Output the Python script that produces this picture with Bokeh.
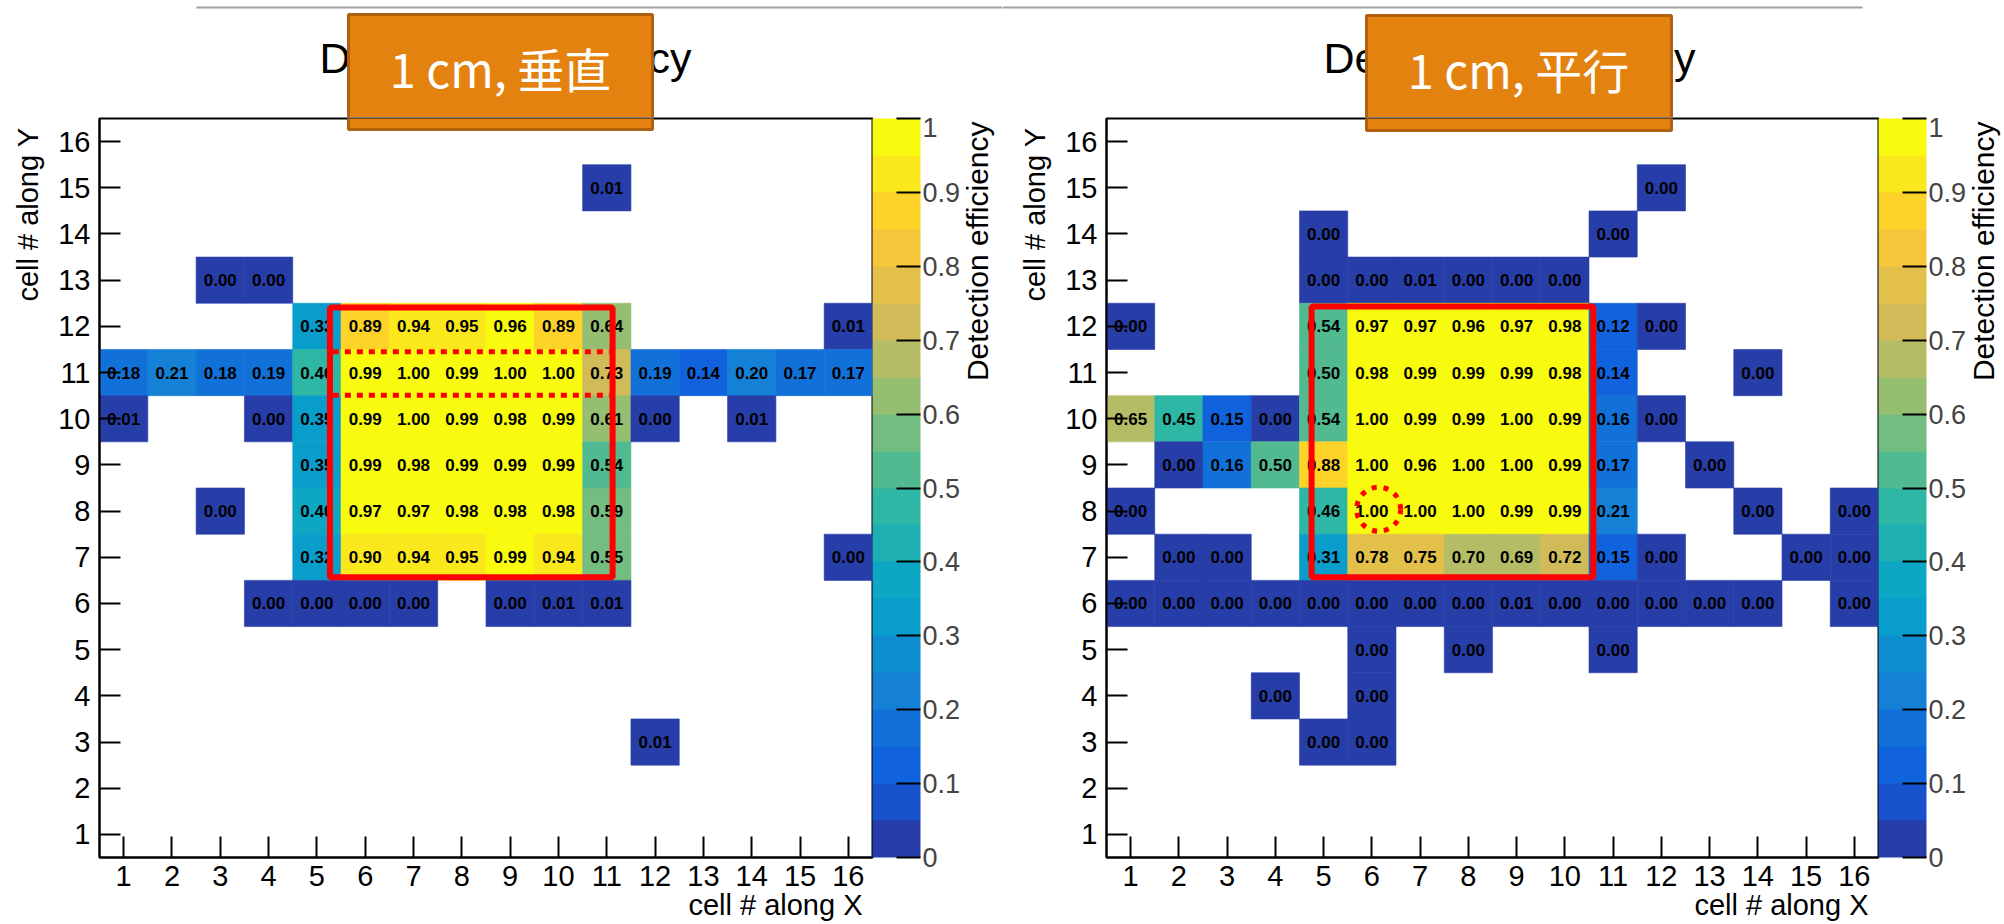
import math
from bokeh.plotting import figure
from bokeh.models import (ColumnDataSource, LinearColorMapper, ColorBar, FixedTicker,
                          Label, Title, Range1d)
from bokeh.layouts import row, column
from bokeh.embed import file_html
from bokeh.resources import INLINE
from bokeh.core.properties import value

# ---------------- data ----------------
# 1 cm, perpendicular (垂直)
perp_x = [11,
          3, 4,
          5, 6, 7, 8, 9, 10, 11, 16,
          1, 2, 3, 4, 5, 6, 7, 8, 9, 10, 11, 12, 13, 14, 15, 16,
          1, 4, 5, 6, 7, 8, 9, 10, 11, 12, 14,
          5, 6, 7, 8, 9, 10, 11,
          3, 5, 6, 7, 8, 9, 10, 11,
          5, 6, 7, 8, 9, 10, 11, 16,
          4, 5, 6, 7, 9, 10, 11,
          12]
perp_y = [15,
          13, 13,
          12, 12, 12, 12, 12, 12, 12, 12,
          11, 11, 11, 11, 11, 11, 11, 11, 11, 11, 11, 11, 11, 11, 11, 11,
          10, 10, 10, 10, 10, 10, 10, 10, 10, 10, 10,
          9, 9, 9, 9, 9, 9, 9,
          8, 8, 8, 8, 8, 8, 8, 8,
          7, 7, 7, 7, 7, 7, 7, 7,
          6, 6, 6, 6, 6, 6, 6,
          3]
perp_eff = [0.01,
            0.00, 0.00,
            0.33, 0.89, 0.94, 0.95, 0.96, 0.89, 0.64, 0.01,
            0.18, 0.21, 0.18, 0.19, 0.46, 0.99, 1.00, 0.99, 1.00, 1.00, 0.73, 0.19, 0.14, 0.20, 0.17, 0.17,
            0.01, 0.00, 0.35, 0.99, 1.00, 0.99, 0.98, 0.99, 0.61, 0.00, 0.01,
            0.35, 0.99, 0.98, 0.99, 0.99, 0.99, 0.54,
            0.00, 0.398, 0.97, 0.97, 0.98, 0.98, 0.98, 0.59,
            0.32, 0.90, 0.94, 0.95, 0.99, 0.94, 0.55, 0.00,
            0.00, 0.00, 0.00, 0.00, 0.00, 0.01, 0.01,
            0.01]

# 1 cm, parallel (平行)
para_x = [12,
          5, 11,
          5, 6, 7, 8, 9, 10,
          1, 5, 6, 7, 8, 9, 10, 11, 12,
          5, 6, 7, 8, 9, 10, 11, 14,
          1, 2, 3, 4, 5, 6, 7, 8, 9, 10, 11, 12,
          2, 3, 4, 5, 6, 7, 8, 9, 10, 11, 13,
          1, 5, 6, 7, 8, 9, 10, 11, 14, 16,
          2, 3, 5, 6, 7, 8, 9, 10, 11, 12, 15, 16,
          1, 2, 3, 4, 5, 6, 7, 8, 9, 10, 11, 12, 13, 14, 16,
          6, 8, 11,
          4, 6,
          5, 6]
para_y = [15,
          14, 14,
          13, 13, 13, 13, 13, 13,
          12, 12, 12, 12, 12, 12, 12, 12, 12,
          11, 11, 11, 11, 11, 11, 11, 11,
          10, 10, 10, 10, 10, 10, 10, 10, 10, 10, 10, 10,
          9, 9, 9, 9, 9, 9, 9, 9, 9, 9, 9,
          8, 8, 8, 8, 8, 8, 8, 8, 8, 8,
          7, 7, 7, 7, 7, 7, 7, 7, 7, 7, 7, 7,
          6, 6, 6, 6, 6, 6, 6, 6, 6, 6, 6, 6, 6, 6, 6,
          5, 5, 5,
          4, 4,
          3, 3]
para_eff = [0.00,
            0.00, 0.00,
            0.00, 0.00, 0.01, 0.00, 0.00, 0.00,
            0.00, 0.54, 0.97, 0.97, 0.96, 0.97, 0.98, 0.12, 0.00,
            0.50, 0.98, 0.99, 0.99, 0.99, 0.98, 0.14, 0.00,
            0.65, 0.45, 0.15, 0.00, 0.54, 1.00, 0.99, 0.99, 1.00, 0.99, 0.16, 0.00,
            0.00, 0.16, 0.50, 0.88, 1.00, 0.96, 1.00, 1.00, 0.99, 0.17, 0.00,
            0.00, 0.46, 1.00, 1.00, 1.00, 0.99, 0.99, 0.21, 0.00, 0.00,
            0.00, 0.00, 0.31, 0.78, 0.75, 0.70, 0.69, 0.72, 0.15, 0.00, 0.00, 0.00,
            0.00, 0.00, 0.00, 0.00, 0.00, 0.00, 0.00, 0.00, 0.01, 0.00, 0.00, 0.00, 0.00, 0.00, 0.00,
            0.00, 0.00, 0.00,
            0.00, 0.00,
            0.00, 0.00]

cell_ticks = [1, 2, 3, 4, 5, 6, 7, 8, 9, 10, 11, 12, 13, 14, 15, 16]
cbar_ticks = [0.0, 0.1, 0.2, 0.3, 0.4, 0.5, 0.6, 0.7, 0.8, 0.9, 1.0]
cbar_tick_labels = ["0", "0.1", "0.2", "0.3", "0.4", "0.5", "0.6", "0.7", "0.8", "0.9", "1"]
chart_title = "Detection efficiency"
x_title = "cell # along X"
y_title = "cell # along Y"
z_title = "Detection efficiency"
box_texts = ["1 cm, 垂直", "1 cm, 平行"]

# ---------------- style ----------------
# ROOT kBird palette, 20 contour levels
bird_stops = [0.0, 0.125, 0.25, 0.375, 0.5, 0.625, 0.75, 0.875, 1.0]
bird_r = [0.2082, 0.0592, 0.0780, 0.0232, 0.1802, 0.5301, 0.8186, 0.9956, 0.9764]
bird_g = [0.1664, 0.3599, 0.5041, 0.6419, 0.7178, 0.7492, 0.7328, 0.7862, 0.9832]
bird_b = [0.5293, 0.8684, 0.8385, 0.7914, 0.6425, 0.4662, 0.3499, 0.1968, 0.0539]


def bird(t):
    for i in range(len(bird_stops) - 1):
        if t <= bird_stops[i + 1] or i == len(bird_stops) - 2:
            f = (t - bird_stops[i]) / (bird_stops[i + 1] - bird_stops[i])
            f = min(max(f, 0.0), 1.0)
            r = bird_r[i] + f * (bird_r[i + 1] - bird_r[i])
            g = bird_g[i] + f * (bird_g[i + 1] - bird_g[i])
            b = bird_b[i] + f * (bird_b[i + 1] - bird_b[i])
            return "#%02x%02x%02x" % (round(r * 255), round(g * 255), round(b * 255))


NCONT = 20
palette = [bird(int((i + 0.99) * 255 / NCONT) / 254) for i in range(NCONT)]

FONT = "Liberation Sans"
CJK = "Noto Sans CJK JP"
ORANGE = "#e4820f"
ORANGE_EDGE = "#b0600e"
RED = "#ff0000"
FIG_W = [1002, 1002]
HEADER_H = 117
MAIN_H = 807
FRAME_W = [773, 772]
LEFT_B = [99, 104]


def make_header(width, line_x, title_cx, box_l, box_r, box_t, box_text_xy, box_text):
    h = figure(width=width, height=HEADER_H, x_range=Range1d(0, width),
               y_range=Range1d(HEADER_H, 0), output_backend="svg",
               toolbar_location=None, title=None, min_border=0,
               x_axis_location=None, y_axis_location=None)
    h.outline_line_color = None
    h.grid.visible = False
    h.background_fill_color = "white"
    h.border_fill_color = "white"
    h.segment(x0=[line_x[0]], y0=[7], x1=[line_x[1]], y1=[7],
              line_color="#a0a0a0", line_width=2)
    h.text(x=[title_cx], y=[57], text=[chart_title], text_align="center",
           text_baseline="alphabetic", text_font=value(FONT), text_font_size="43px",
           text_color="black")
    h.quad(left=[box_l], right=[box_r], top=[box_t], bottom=[HEADER_H + 6],
           fill_color=ORANGE, line_color=ORANGE_EDGE, line_width=3)
    h.text(x=[box_text_xy[0]], y=[box_text_xy[1]], text=[box_text], text_align="center",
           text_baseline="middle", text_font=value(CJK), text_font_size="47px",
           text_color="white")
    return h


def make_panel(xs, ys, effs, k, box_lr_data, box_bottom_data,
               rect_lrbt, dotted_rows, circle_xy):
    mapper = LinearColorMapper(palette=palette, low=0, high=1)
    src = ColumnDataSource(dict(x=xs, y=ys, eff=effs,
                                label=["%.2f" % v for v in effs]))
    p = figure(width=FIG_W[k], height=MAIN_H, x_range=(0.5, 16.5), y_range=(0.5, 16.5),
               output_backend="svg", toolbar_location=None, title=None,
               min_border_left=LEFT_B[k],
               min_border_right=FIG_W[k] - LEFT_B[k] - FRAME_W[k],
               min_border_top=1, min_border_bottom=MAIN_H - 740)
    p.background_fill_color = "white"
    p.border_fill_color = "white"
    p.grid.visible = False
    p.outline_line_color = "black"
    p.outline_line_width = 2

    p.rect("x", "y", 1, 1, source=src,
           fill_color={"field": "eff", "transform": mapper},
           line_color={"field": "eff", "transform": mapper}, line_width=0.6)
    p.text("x", "y", text="label", source=src, text_align="center",
           text_baseline="middle", text_font=value(FONT), text_font_style="bold",
           text_font_size="17px", text_color="black")

    for ax in (p.xaxis[0], p.yaxis[0]):
        ax.ticker = FixedTicker(ticks=cell_ticks)
        ax.major_tick_in = 21
        ax.major_tick_out = 0
        ax.minor_tick_line_color = None
        ax.axis_line_width = 2
        ax.major_tick_line_width = 2
        ax.major_label_text_font = FONT
        ax.major_label_text_font_size = "29px"
        ax.major_label_text_color = "black"
    p.xaxis.major_label_standoff = 8
    p.yaxis.major_label_standoff = 9

    # lower part of the orange slide box, overlapping the frame top
    p.quad(left=[box_lr_data[0]], right=[box_lr_data[1]], top=[17.0],
           bottom=[box_bottom_data], fill_color=ORANGE, line_color=ORANGE_EDGE,
           line_width=3)

    # red highlight overlays
    l, r, b, t = rect_lrbt
    p.quad(left=[l], right=[r], bottom=[b], top=[t], fill_color=None,
           line_color=RED, line_width=6)
    for yy in dotted_rows:
        p.segment(x0=[l + 0.06], y0=[yy], x1=[r - 0.06], y1=[yy], line_color=RED,
                  line_width=5, line_dash="6 6")
    if circle_xy is not None:
        p.scatter(x=[circle_xy[0]], y=[circle_xy[1]], size=44, marker="circle",
                  fill_color=None, line_color=RED, line_width=5, line_dash="5 7")

    cb = ColorBar(color_mapper=mapper, width=48, height=739, margin=5, padding=0,
                  location="top_left",
                  ticker=FixedTicker(ticks=cbar_ticks),
                  major_label_overrides={t: s for t, s in zip(cbar_ticks, cbar_tick_labels)},
                  major_tick_in=24, major_tick_out=0, major_tick_line_color="black",
                  major_tick_line_width=2, minor_tick_line_color=None,
                  bar_line_color=None, border_line_color=None,
                  background_fill_color=None, label_standoff=2,
                  major_label_text_font=FONT, major_label_text_font_size="27px")
    p.add_layout(cb, "right")

    # axis titles (ROOT style: right / top aligned)
    p.add_layout(Title(text=x_title, align="right", offset=10, standoff=-4,
                       vertical_align="bottom", text_font=FONT, text_font_size="29px",
                       text_font_style="normal", text_color="black"), "below")
    p.add_layout(Title(text=y_title, align="right", offset=9, standoff=20,
                       vertical_align="top", text_font=FONT, text_font_size="29px",
                       text_font_style="normal", text_color="black"), "left")
    p.add_layout(Label(x=14, y=736, x_units="screen", y_units="screen", text=z_title,
                       angle=math.pi / 2, text_align="right", text_baseline="alphabetic",
                       text_font=FONT, text_font_size="30px", text_color="black"), "right")
    return p


h1 = make_header(FIG_W[0], (196, FIG_W[0]), 505, 348, 652, 14, (500, 67), box_texts[0])
h2 = make_header(FIG_W[1], (0, 860), 507, 364, 669, 15, (516, 68), box_texts[1])

p1 = make_panel(perp_x, perp_y, perp_eff, 0, (5.654, 11.947), 16.262,
                (5.27, 11.12, 6.57, 12.41), [11.45, 10.51], None)
p2 = make_panel(para_x, para_y, para_eff, 1, (5.889, 12.21), 16.24,
                (4.75, 10.59, 6.57, 12.43), [], (6.14, 8.04))

layout = column(row(h1, h2, spacing=0), row(p1, p2, spacing=0), spacing=0)
open("out.html", "w").write(file_html(layout, INLINE))
